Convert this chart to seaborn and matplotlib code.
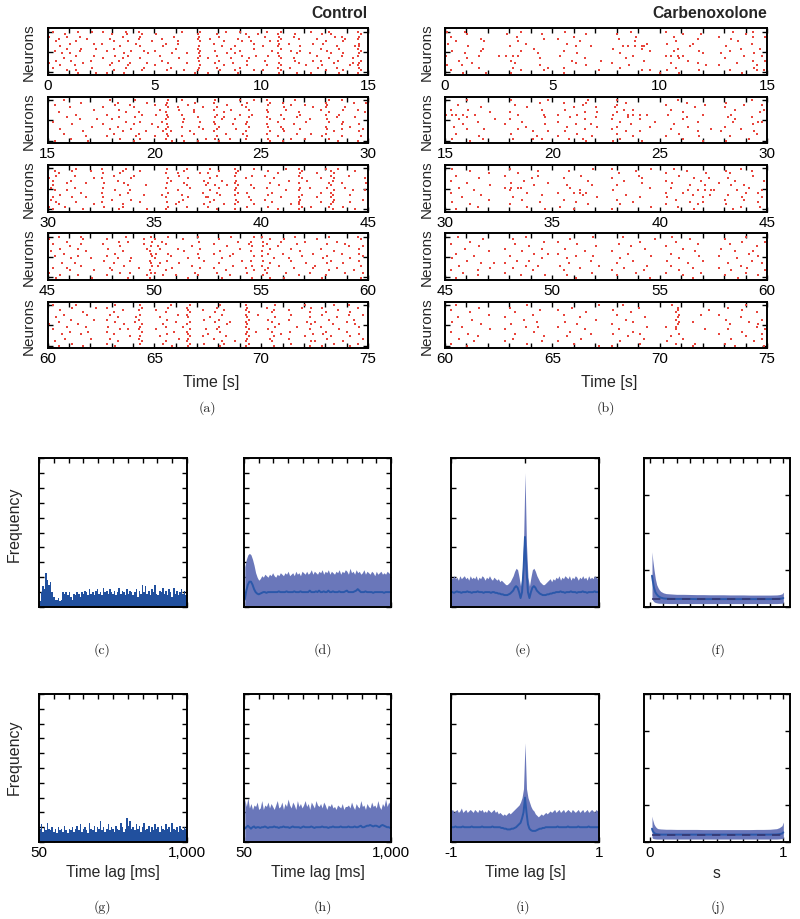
import numpy as np
import pandas as pd
import matplotlib
matplotlib.use("Agg")
import matplotlib.pyplot as plt
import seaborn as sns

# ======================= DATA =======================
# Raster plots: 18 neurons, each string = one neuron over a 15 s panel,
# one character per 0.25 s cell ('.' = no spike, a/b/c/d = spike position in the cell)
PANEL_STARTS = [0, 15, 30, 45, 60]
CELL_S = 0.25
SPIKE_OFFSET = {"a": 0.03, "b": 0.09, "c": 0.16, "d": 0.22}

CONTROL_P1 = [
    ".a...c..b. b...c..a.. .....a..c. ...b..a... .a.c.....b ..c.....a.",
    "...b...... ..a.d..c.. b.......a. .c.....a.b ...a..b... .b.a....c.",
    "b..c..a... ....a..b.. ...c....b. ..a....c.. c..b..a... ...d.a..b.",
    "..a....b.. .c.....a.. .b......a. b....c.... ...c...a.. b....c..a.",
    ".c...b.... ..b..a...c ....b...c. ...a..b.a. .c.a...... ..a..b....",
    "....a...c. a.....c... ..a.b..... .a......c. ...b.a...c .c......b.",
    "a.b....... ...c...b.. .c......b. ..c..a.... b..a...b.. ....a..cb.",
    "...c..b..a ..b....... ....a...a. ....b...c. ...c...... .a..c...a.",
    ".b....a... .a...c..a. a.......c. .b....a... ..a..c.b.. ..b.....c.",
    "..c.a..... ....b...d. ...b..a.b. ...c.a.... ...a..c..a ...a.b..b.",
    "a....b..c. ..c..a.... .a......c. .c....b..a .b.b...... b....a..a.",
    "...a...... b...a..b.. ....c...a. a...b..c.. ...c..a... ..c....a..",
    ".c..b...a. ...b...... .b......b. ..a....b.. c.....b..c .a..b...c.",
    "b.....c... ..a..b..c. ..c...a... .b..c..... ...b...a.. ...c...ab.",
    "..b..a.... .c...a.... a.......c. ...a...b.. .a.c....b. .b....c.a.",
    ".a......b. ....c...a. ...a....b. .c....a... ...a.b.... c...a...b.",
    "...c.b.... ..b....c.. ..b..c..a. ..b..a..c. b..c...... ..a..b..c.",
    "a....c...a .a..b..... .......c.. a....c.... ...b..c..b ....c...a.",
]
CONTROL_P2 = [
    "...a...... .c....b... ..c..a.... .b....a.c. .a....b... ..c..a....",
    "......b... ...a....c. ..b....c.. .a.....b.. .c..a..... ..a....b.c",
    ".b........ ..c..b.... a.a...b... ...c..b... .b...c..a. ..b.......",
    "....a..... b.....a... ..c.b....a .c.....a.. ....b....c ..a..c....",
    "........c. ...b...... .a..c..b.. .a..b..c.. .a..c..... .a...b..a.",
    "..a....... ....c..a.. ..a....b.. ...a...... .b.....a.. ..c......b",
    ".....b.... .a.....c.. b.b..a.... .c....a.b. ...c...b.. ..a.c.....",
    "...c...... ...b..b... ..c.....a. .b.a...c.. .a....c... ....a..c..",
    "......a..b ..a....... ..a..c.... ..c..a.... .c..b....a ..b.......",
    ".a........ ....c..b.. .b...b..c. .a.....b.. ...a....b. ..c..b....",
    "....c..... b.....a..c ..b....... .b..c..a.. .a....a... .....a..b.",
    "........b. ...a...... c.c..a..b. ..a....c.. .b.c...... ..a...c...",
    "..b....... .c...c.... ..a......a .c...b.... ....a..b.. ..b..a...a",
    "......c... ....a...b. .c.a..c... .a.....a.. .c..b..... ...c....b.",
    "...a...... ..b....a.. ..b....b.. ...b..c... .a....c..b ..a.......",
    ".......a.. .a....c... a.c..a.... .c.....b.. ...a...... .b...a..c.",
    "....b..... ...c...b.. ..a......c .b..a..a.. .b...c..a. ..c.......",
    ".b.....c.. ......a... ...b.c..a. ..a....... .c..a..... ....b...a.",
]
CONTROL_P3 = [
    "a....b.... a...c..... ..b...a... b....a..c. ....c..a.. ..a.b.....",
    ".b..c...a. ....a..b.. .....c.... ..a..c.... .b.....c.. ...a...c..",
    "..a....... b..c...... ..a.b...c. a....b.... ...a...b.. b..c......",
    ".c...a.... ..b...a... ....c..... .c...a..b. c......a.. ...a..b...",
    "b.......c. a....c.... ..c...b... b......a.. ..b....c.. .a.c.....b",
    ".a..b..... ...a...... ...a.....b ..c..b.... .....a..c. ...b......",
    "...c...a.. c...b..... ..b..c.... a....a.... .c.....a.. ..c..a...c",
    ".a........ .....a..b. ......a..c .b.c.c..a. ...b...... ...a......",
    "c....a.... b......... ..a...c... ..a..b..c. .a.....b.a ..b..c....",
    ".b.c...... ..c..b.... ....b..... b....a.... ....c..a.. ...c...a.b",
    "a.....b... a....a.... ..c......a .c...c.b.. ..a....... .a.a......",
    "..b....... ...c....a. .b...a.... ..b..a.... .b.....c.. ...b..c...",
    ".a..c..a.. b......... ..a...b..c a......c.. ...c...a.. b..a......",
    "c......... ..a..c.... .....b.... .a...b..a. c......b.. ...c.....a",
    ".c...b.... a......b.. ..b.c..... b....c.... ..a....a.. .a.b..c...",
    "..a.....c. ....a..... ....a....b ...a.a..c. .....c.a.. ...a......",
    "b..b...... c...a..... ..c...a... a......b.. .b.....c.b ..c..b....",
    ".a....c... ...b....c. ..a....... .c...a.... ...a...a.. ...b...c..",
]
CONTROL_P4 = [
    "..a...b... ....c....b ..c.....a. ....b...c. a.....b... ..c.....a.",
    "b.....c... .a......a. a....b.... ..a....... .c..b..... b.......c.",
    "...c...... ...b.a...c .b......b. .....c..a. b..c....a. ....a.....",
    ".a....b... b.......a. ..a....... .a.....c.. .a....c... ..b..c....",
    "....a..... ...c.....b c......a.. ...c....b. b..a...... ......b..a",
    "..b..c.... .b......c. .a..b...c. ......a... .c...c.... .a......b.",
    "c......a.. ....a....a .....c.... ..b.....a. a......b.. ...c......",
    "...a...... ..c......b b.c.....a. .a..c..... .b..a....c .....a..b.",
    ".b...c.... .a.......c ...a...... ....a...c. a......c.. ..b......a",
    "....b...a. ...a.c.... a.....b.b. ..c....... ..b..a.... .c....c...",
    "a......... c....b...a ..b......b ......b.a. b....c.... ...a....b.",
    "..c..a.... ..b......b .a..c..... ..a....... .c......b. ..b..b....",
    "......b... ....b....c c......a.. ....c...b. a..b...... a.......c.",
    ".a.c...... .c.....a.. ...b....c. .a.....a.. .b....a..c ....a.....",
    "....a...c. ..a......a ..a....... ...b....c. c......... ..c....b..",
    "b......... ...c.b...b a......c.. .c.....b.. .a..c....a .....c...a",
    "..b..c.... .a......c. .c..a...a. ....a..... b......a.. ..a.......",
    ".c......b. .....a...a ......b... ..c.....b. .c..b..... .b......c.",
]
CONTROL_P5 = [
    ".a...b.... ..c....b.. ...a..c... ..b....a.. ..c.....a. ...c..b...",
    "....c....a .a.....c.. ..c...a... .c.....b.. .a.....c.b .b......a.",
    "..b....... ....a..a.. b.....b..a ...a...a.. ..b..a.... ....b.....",
    "a.....c... ..b....... ..a...c... .b.....c.. ..a......a ..a...c...",
    "...a...b.. .c.....b.. ....b.a... ..c....a.b .....c.... .b....b..a",
    ".c........ ...a..c... .a....b... b......b.. ..c......a ....a.....",
    "....b...c. .a.....a.. ..b......b ..a....c.. .b...a.... ..c....b..",
    "..a....... ..c...b... ....a.c... .b..a..a.. ..a.....c. a.....a...",
    "b....c.... ....b..c.. .c....a... ...c...b.. ...b.....b ...b...c..",
    "...c...a.. .b.....b.. ..a..b.... ..a....a.. ..c...c... .a......b.",
    ".a........ ...c.a.a.. b.....c..c .c.....c.. .b.......a ....c.....",
    "....a..c.. .a.....c.. ...c..a... ..b....b.a ..a..b.... ..a...a...",
    "..c...b... ..b....... ..b...b... a......a.. ...c.....c .c......b.",
    "a......... .....b.b.. .a....c..a ...b...c.. ..b.....a. ...a..c...",
    "...b....a. .c.....a.. ....c.b... .a.....b.. .c...a.... ..b......a",
    ".b........ ...a...c.. ..a...a... ..c..a.a.. ..a......b a....b....",
    "....c..... .a.....b.. .c....c..b ...a...c.. .....c.... ...c....a.",
    "..a...c... ..c....... ...b..b... ..b....a.. ..b......a .b....c...",
]

CARBENOXOLONE_P1 = [
    "b..c...... ....a..... ..b....... ....c..... .a........ ...c...b..",
    "....a..... .c......a. ......b... ..a....... ....b..c.. ......a...",
    ".a........ ...b...... ....a..... .....c.... ..c....... .a.....b.c",
    "......c... ........b. .a........ ..b....... .......a.. ...b......",
    "..a....b.. ...c...... .....a.... .....b.... ...a...... ....c.....",
    "c......... .....a.... ..c....... .......c.. .b....a... .......a..",
    "....b..... ..a....... ....b..a.. ...aabca.. .....c.... ..b.......",
    ".......a.. ......c... .......... .b....c... ...b...... .....a..c.",
    ".b....c... ....a..... ..a....... ........a. ..c....b.. ...a......",
    "...c...... .......b.. ....c..... ..c....... ........a. .b.....c..",
    "a.....b... abcc...... .b........ .....a.... .aabb..... .....c...a",
    "....a..... .......c.. ......a... ...c...... ...c...... ..a.......",
    "..c....... ..b....... ...c.....a .......a.. .....b.... .......b.c",
    ".....a.... ...a...... ....b..... .a........ ..a....a.. ....b.....",
    "b..a...... .......c.. ......b... ....b..... ........c. .a......a.",
    "......b... ..c......a ..a....... ..c....... ...a...... .......c..",
    ".a........ ....a...b. ........c. ......c.a. .b.....b.. ...a....ab",
    "...b...c.. ..b....... ..a....... .......... a..c...... .....b....",
]
CARBENOXOLONE_P2 = [
    "....a..... ..b......a ......c... ..a....... ...b...... .......a..",
    ".......... .......c.. ..a...b... ...c...... .....a.... ..b.......",
    "..b....... ...a...... .....c.... ..a....... .a......b. .....c...a",
    "......c... .....b.... ....a...a. .c........ ......c... ..a.......",
    ".a..b..... ........a. ..b....... ...b.a.... ..a....... ....a....b",
    "........b. ..a....... ......a.b. ..a....... ....b..... ........c.",
    "abab.c.... ...c....b. .a..c..... .b..aabc.. .c......a. ...b......",
    "....a..... ........c. ...b....a. ....a..... .....a.... ..c....a..",
    "..c......b ..a....... ......a... .a....b... ....b..... ....a.....",
    "......a... ....b..... .a........ ..c......a .......a.. ...c....ba",
    "...b...... .a......c. ....b..a.. ....c..... ..c....... .......b..",
    ".c........ .....a.... ..c.....b. ..a.....a. .....b.... ..a.......",
    "....a..b.. ...c...... ......a... .a........ ..a......c .....a....",
    ".......... ......b..a ..b....... ...c..b... .......a.. .b.....c..",
    "..a....... ..b....... ....c..... ..a....... ...c...... ........a.",
    "......b... .......a.. .a.....b.. .....a.... .a.....b.. ...a......",
    ".b.....a.. ..c...b.a. ...a.c.... ..c....... ....b..... ......c...",
    "....c..... .......... ......b... .b....c... ........a. ..b.......",
]
CARBENOXOLONE_P3 = [
    ".b........ ..a....... .......c.. .a......b. ..c....... .....a....",
    "....c..... .......b.. ...a...... .....c.... .....a.... ..b....a..",
    "........a. ...c...... .......... ..b....... .a......c. ...a......",
    "..a....... .a.....b.. .....b.... ......a... ...c...... .......b..",
    "......b... ......a... ..a....... .a....c... ......b..a ..c.......",
    ".a........ ....c..... ......c... ...b...... .a.....c.. ....a....b",
    "....a..... ..b......a .......... ......c... ..b....... .a........",
    "........b. ......c... ..c....b.. ..a....... .....c..b. ...b.c....",
    "..c....... .abca..... ...b...... ........a. ..a....... ......c...",
    ".....b.... ..a....... .....a.... .b........ .....b.abc a...b....a",
    ".a........ .....b.... .a..aab... .......... .a..b..... ......a.b.",
    "......c... ........a. .....c.... ...c...... ......a..b ..c.......",
    "...a...... ..c....... ........b. ......b... .b......a. .....b...a",
    "........a. ....b..... ..a....... ..a....... ...a...... ..a..c....",
    ".b........ .......c.. ....b..... .....a.... .....c..a. ........b.",
    "....c..... ..a....... ......c... ..c....... .a.....a.. ..b.......",
    "......a... .....b.... .b........ ........b. ...b...... .....a..c.",
    "..a....... ........c. ....a..... .a........ ......b... ...c......",
]
CARBENOXOLONE_P4 = [
    "..b....... .....a.... .......c.. ...a...... ..b....... ......a...",
    ".......a.. ..c....... ...b...... .........a .....c.... ..a.......",
    "....c..... ........b. .a........ ......b... ...a...... .....b...c",
    ".a........ ...a...... ....c..... ..b....... .......a.. ...a......",
    "......b... .....c.... ........a. ....c..... .a........ ........a.",
    "...c...... .a......a. ..b....... .......b.. ....b..... .b........",
    "........a. ....b..... ......a... .a........ ......c... ....a..b..",
    "..a....... ......c..a .a........ ....a..... ..a....... ......c...",
    ".....b.... ..a....... ....b..c.. ........b. .......b.. .a......b.",
    ".b........ ........a. ..c....... ..c....... ...c...... ....b.....",
    "....a..... ...b.c.... .......a.. .....a.... .b......a. .......a..",
    "......c..a .a........ ...a...... ..a....... .....b.... ..c......a",
    "..c....... .....a.b.. .b......c. .......c.. ..a....... .....a....",
    "........b. ..c....... .....a.... ...b...... ......a... .a....b...",
    ".a....a... ......b... ..a....... .a.....a.. ...c...... ...b.....c",
    "...b...... .a........ .......b.. .....c.... .a.....c.. ......a...",
    "......a... ....a...c. ..c....... ..a....... ....b..... ..a.....b.",
    "..a....... .......... ....b..... ........a. ......a... ....c.....",
]
CARBENOXOLONE_P5 = [
    "..a....... .....b.... ........c. ...a...... ..b....... ......a...",
    "......b... ..a....... ...c...... ......a... ...b...... ..c.......",
    ".a........ .......c.. .a........ .b........ ...b.....a .....b....",
    "....c..... ...a...... ......b... ....c..... ...a...... ........a.",
    "........a. ......b... ..a....... ..a....... ...c...c.. .a........",
    "..b....... .a........ .....a.... .......b.. ...b...... .....a....",
    ".....a.... ....c..... ........a. ...c...... ...a...... ..b......a",
    ".b........ .......a.. ..b....... .....a.... ...c..a... ......c...",
    "......c... ..b....... ....c..... .a........ ...b...... ...a....b.",
    "...a...... .....a.b.. .a........ .......c.. .a.a...... ........a.",
    "........b. .a........ ......a... ..b....... ...a....b. ..c......c",
    ".a........ ......c... ...b...... .....a.... .......... .....b....",
    "....b..... ...a...... .......a.. .b....b... ...c...... .a.......a",
    "......a... ........b. ..c....... ....a..... ..a....... ......a...",
    "..c....... ..c....... .....b.... .......a.. ....b..... ...b.....a",
    ".....b.... .a......a. .a........ ..c....... .b........ .......c..",
    ".a........ .....b.... ....a..... ......b... ...a..c... ..a.......",
    "....a..... .......... ........c. .a........ ......a... ....a....b",
]

CONTROL_PANELS = [CONTROL_P1, CONTROL_P2, CONTROL_P3, CONTROL_P4, CONTROL_P5]
CARBENOXOLONE_PANELS = [CARBENOXOLONE_P1, CARBENOXOLONE_P2, CARBENOXOLONE_P3,
                        CARBENOXOLONE_P4, CARBENOXOLONE_P5]

# Lag histograms (50..1000 ms, 10 ms bins), normalised frequency
HIST_EDGES_MS = np.arange(50, 1001, 10)
HIST_C = [0.04, 0.10, 0.14, 0.12, 0.23, 0.18, 0.15, 0.17, 0.10, 0.07,
          0.05, 0.05, 0.06, 0.04, 0.05, 0.10, 0.09, 0.10, 0.08, 0.10,
          0.07, 0.05, 0.09, 0.08, 0.10, 0.09, 0.07, 0.10, 0.09, 0.11,
          0.10, 0.08, 0.12, 0.09, 0.10, 0.08, 0.11, 0.12, 0.09, 0.10,
          0.08, 0.13, 0.10, 0.11, 0.09, 0.12, 0.10, 0.09, 0.11, 0.08,
          0.10, 0.13, 0.09, 0.11, 0.10, 0.08, 0.12, 0.09, 0.11, 0.10,
          0.08, 0.10, 0.12, 0.07, 0.11, 0.09, 0.15, 0.10, 0.14, 0.09,
          0.11, 0.08, 0.12, 0.10, 0.15, 0.09, 0.08, 0.11, 0.10, 0.13,
          0.09, 0.11, 0.08, 0.12, 0.10, 0.07, 0.13, 0.09, 0.11, 0.08,
          0.10, 0.12, 0.09, 0.11, 0.08]
HIST_G = [0.09, 0.12, 0.07, 0.10, 0.08, 0.13, 0.09, 0.08, 0.10, 0.07,
          0.09, 0.06, 0.10, 0.08, 0.09, 0.07, 0.11, 0.08, 0.06, 0.09,
          0.08, 0.10, 0.07, 0.09, 0.11, 0.08, 0.12, 0.07, 0.09, 0.10,
          0.08, 0.06, 0.13, 0.09, 0.08, 0.11, 0.07, 0.10, 0.09, 0.14,
          0.08, 0.10, 0.07, 0.09, 0.12, 0.08, 0.10, 0.09, 0.07, 0.11,
          0.09, 0.08, 0.13, 0.10, 0.07, 0.09, 0.16, 0.11, 0.14, 0.09,
          0.10, 0.08, 0.12, 0.09, 0.11, 0.07, 0.10, 0.13, 0.08, 0.09,
          0.11, 0.07, 0.10, 0.08, 0.12, 0.09, 0.10, 0.07, 0.11, 0.09,
          0.08, 0.12, 0.09, 0.10, 0.07, 0.13, 0.09, 0.08, 0.10, 0.07,
          0.11, 0.09, 0.08, 0.10, 0.09]

# Surrogate bands (upper envelope) and mean, same bins
BAND_D_UP = [0.27, 0.32, 0.35, 0.36, 0.35, 0.32, 0.28, 0.23, 0.20, 0.18,
             0.19, 0.21, 0.20, 0.22, 0.21, 0.20, 0.22, 0.21, 0.23, 0.21,
             0.20, 0.22, 0.21, 0.23, 0.22, 0.21, 0.23, 0.22, 0.24, 0.21,
             0.22, 0.23, 0.21, 0.24, 0.22, 0.23, 0.21, 0.24, 0.23, 0.22,
             0.24, 0.22, 0.23, 0.25, 0.22, 0.24, 0.23, 0.22, 0.24, 0.23,
             0.25, 0.22, 0.24, 0.23, 0.25, 0.22, 0.24, 0.23, 0.22, 0.24,
             0.23, 0.25, 0.22, 0.24, 0.23, 0.25, 0.24, 0.22, 0.26, 0.23,
             0.24, 0.22, 0.25, 0.23, 0.24, 0.22, 0.23, 0.25, 0.22, 0.24,
             0.23, 0.22, 0.24, 0.23, 0.21, 0.24, 0.22, 0.23, 0.24, 0.22,
             0.23, 0.22, 0.24, 0.23, 0.22]
BAND_D_MEAN = [0.05, 0.11, 0.15, 0.17, 0.17, 0.15, 0.12, 0.10, 0.09, 0.085,
               0.09, 0.095, 0.10, 0.10, 0.095, 0.10, 0.10, 0.10, 0.10, 0.10,
               0.10, 0.10, 0.105, 0.10, 0.10, 0.10, 0.10, 0.105, 0.10, 0.10,
               0.10, 0.10, 0.105, 0.10, 0.10, 0.10, 0.105, 0.10, 0.10, 0.10,
               0.10, 0.10, 0.11, 0.10, 0.10, 0.10, 0.105, 0.10, 0.11, 0.10,
               0.10, 0.105, 0.10, 0.10, 0.11, 0.10, 0.10, 0.105, 0.10, 0.10,
               0.10, 0.105, 0.10, 0.10, 0.10, 0.105, 0.11, 0.10, 0.10, 0.10,
               0.10, 0.105, 0.11, 0.12, 0.11, 0.10, 0.10, 0.10, 0.105, 0.10,
               0.10, 0.10, 0.10, 0.095, 0.10, 0.10, 0.10, 0.10, 0.10, 0.10,
               0.095, 0.10, 0.10, 0.10, 0.10]
BAND_H_UP = [0.29, 0.24, 0.30, 0.23, 0.26, 0.22, 0.25, 0.24, 0.27, 0.22,
             0.23, 0.28, 0.22, 0.25, 0.24, 0.27, 0.23, 0.26, 0.24, 0.22,
             0.25, 0.28, 0.23, 0.24, 0.27, 0.22, 0.26, 0.24, 0.29, 0.25,
             0.23, 0.27, 0.25, 0.22, 0.28, 0.24, 0.26, 0.23, 0.25, 0.28,
             0.24, 0.26, 0.22, 0.27, 0.25, 0.23, 0.28, 0.25, 0.24, 0.26,
             0.23, 0.27, 0.25, 0.22, 0.25, 0.24, 0.26, 0.23, 0.24, 0.22,
             0.25, 0.24, 0.23, 0.26, 0.22, 0.24, 0.24, 0.25, 0.23, 0.27,
             0.24, 0.22, 0.26, 0.24, 0.23, 0.28, 0.24, 0.25, 0.22, 0.26,
             0.24, 0.23, 0.27, 0.24, 0.25, 0.23, 0.28, 0.24, 0.22, 0.26,
             0.24, 0.29, 0.24, 0.27, 0.25]
BAND_H_MEAN = [0.09, 0.10, 0.11, 0.10, 0.09, 0.10, 0.105, 0.095, 0.10, 0.10,
               0.095, 0.10, 0.10, 0.105, 0.10, 0.095, 0.10, 0.10, 0.10, 0.105,
               0.10, 0.10, 0.095, 0.10, 0.10, 0.105, 0.10, 0.10, 0.10, 0.095,
               0.10, 0.105, 0.10, 0.10, 0.10, 0.10, 0.095, 0.10, 0.105, 0.10,
               0.10, 0.10, 0.10, 0.105, 0.10, 0.095, 0.10, 0.10, 0.10, 0.10,
               0.105, 0.10, 0.10, 0.10, 0.095, 0.10, 0.10, 0.105, 0.10, 0.10,
               0.10, 0.10, 0.105, 0.10, 0.10, 0.10, 0.10, 0.105, 0.10, 0.10,
               0.10, 0.105, 0.10, 0.10, 0.105, 0.11, 0.10, 0.10, 0.105, 0.11,
               0.11, 0.115, 0.11, 0.105, 0.11, 0.11, 0.105, 0.10, 0.11, 0.115,
               0.11, 0.105, 0.10, 0.10, 0.095]

# Cross-correlograms, lag -1..1 s in 0.02 s steps
LAG_S = np.round(np.arange(-1.0, 1.0001, 0.02), 2)
CCG_E_UP = [0.20, 0.19, 0.21, 0.19, 0.20, 0.18, 0.21, 0.19, 0.20, 0.21,
            0.19, 0.20, 0.18, 0.21, 0.19, 0.20, 0.19, 0.21, 0.18, 0.20,
            0.19, 0.21, 0.20, 0.18, 0.20, 0.19, 0.21, 0.19, 0.18, 0.20,
            0.19, 0.18, 0.19, 0.17, 0.18,
            0.17, 0.16, 0.15, 0.15, 0.16, 0.17, 0.19, 0.21, 0.24, 0.26, 0.25, 0.20, 0.14, 0.20, 0.42,
            0.90,
            0.42, 0.20, 0.14, 0.20, 0.25, 0.26, 0.24, 0.21, 0.19, 0.17, 0.16, 0.15, 0.15, 0.16, 0.17,
            0.18, 0.19, 0.17, 0.19, 0.18,
            0.20, 0.19, 0.21, 0.18, 0.20, 0.19, 0.21, 0.20, 0.19, 0.21,
            0.18, 0.20, 0.19, 0.21, 0.20, 0.18, 0.20, 0.19, 0.21, 0.19,
            0.20, 0.18, 0.21, 0.19, 0.20, 0.19, 0.21, 0.20, 0.19, 0.20]
CCG_E_MEAN = [0.10, 0.10, 0.095, 0.10, 0.105, 0.10, 0.10, 0.095, 0.10, 0.10,
              0.10, 0.105, 0.10, 0.10, 0.095, 0.10, 0.10, 0.10, 0.105, 0.10,
              0.10, 0.10, 0.095, 0.10, 0.10, 0.10, 0.10, 0.095, 0.10, 0.10,
              0.095, 0.095, 0.09, 0.09, 0.085,
              0.085, 0.08, 0.08, 0.08, 0.085, 0.09, 0.10, 0.11, 0.13, 0.14, 0.13, 0.10, 0.06, 0.10, 0.25,
              0.47,
              0.25, 0.10, 0.06, 0.10, 0.13, 0.14, 0.13, 0.11, 0.10, 0.09, 0.085, 0.08, 0.08, 0.08, 0.085,
              0.085, 0.09, 0.09, 0.095, 0.095,
              0.10, 0.10, 0.10, 0.105, 0.10, 0.10, 0.095, 0.10, 0.10, 0.10,
              0.105, 0.10, 0.10, 0.10, 0.095, 0.10, 0.10, 0.10, 0.105, 0.10,
              0.10, 0.095, 0.10, 0.10, 0.10, 0.10, 0.105, 0.10, 0.10, 0.10]
CCG_I_UP = [0.21, 0.22, 0.20, 0.21, 0.22, 0.20, 0.21, 0.23, 0.20, 0.21,
            0.22, 0.20, 0.21, 0.22, 0.21, 0.20, 0.22, 0.21, 0.20, 0.22,
            0.21, 0.22, 0.20, 0.21, 0.20, 0.22, 0.21, 0.20, 0.21, 0.22,
            0.20, 0.21, 0.19, 0.20, 0.19, 0.18, 0.19, 0.18, 0.19, 0.20,
            0.19, 0.20, 0.21, 0.22, 0.23, 0.24, 0.25, 0.27, 0.30, 0.36,
            0.67,
            0.36, 0.30, 0.27, 0.24, 0.22, 0.21, 0.19, 0.18, 0.17, 0.18,
            0.19, 0.18, 0.19, 0.20, 0.19, 0.20, 0.21, 0.20, 0.21, 0.22,
            0.20, 0.21, 0.22, 0.20, 0.21, 0.22, 0.20, 0.21, 0.22, 0.21,
            0.20, 0.22, 0.21, 0.20, 0.21, 0.22, 0.20, 0.21, 0.22, 0.20,
            0.21, 0.22, 0.20, 0.21, 0.22, 0.21, 0.20, 0.22, 0.21, 0.21]
CCG_I_MEAN = [0.10, 0.10, 0.10, 0.105, 0.10, 0.10, 0.10, 0.10, 0.105, 0.10,
              0.10, 0.10, 0.10, 0.10, 0.105, 0.10, 0.10, 0.10, 0.10, 0.10,
              0.10, 0.105, 0.10, 0.10, 0.10, 0.10, 0.10, 0.10, 0.105, 0.10,
              0.10, 0.10, 0.10, 0.10, 0.095, 0.095, 0.09, 0.09, 0.085, 0.085,
              0.085, 0.09, 0.09, 0.095, 0.10, 0.11, 0.12, 0.13, 0.16, 0.20,
              0.30,
              0.20, 0.12, 0.09, 0.08, 0.075, 0.075, 0.075, 0.08, 0.085, 0.09,
              0.09, 0.095, 0.095, 0.10, 0.10, 0.10, 0.10, 0.10, 0.10, 0.10,
              0.10, 0.105, 0.10, 0.10, 0.10, 0.10, 0.10, 0.10, 0.105, 0.10,
              0.10, 0.10, 0.10, 0.10, 0.10, 0.105, 0.10, 0.10, 0.10, 0.10,
              0.10, 0.10, 0.105, 0.10, 0.10, 0.10, 0.10, 0.10, 0.10, 0.10]

# Measure vs s (0..1)
S_VALUES = [0.015, 0.02, 0.03, 0.04, 0.05, 0.06, 0.07, 0.08, 0.10, 0.12,
            0.15, 0.20, 0.25, 0.30, 0.35, 0.40, 0.45, 0.50, 0.55, 0.60,
            0.65, 0.70, 0.75, 0.80, 0.85, 0.90, 0.95, 0.97, 0.99, 1.00]
S_F_UP = [0.37, 0.32, 0.25, 0.19, 0.15, 0.13, 0.115, 0.105, 0.095, 0.09,
          0.088, 0.085, 0.085, 0.084, 0.083, 0.083, 0.082, 0.082, 0.082, 0.081,
          0.081, 0.081, 0.080, 0.080, 0.080, 0.080, 0.081, 0.083, 0.088, 0.10]
S_F_LOW = [0.06, 0.045, 0.035, 0.03, 0.028, 0.026, 0.025, 0.025, 0.024, 0.024,
           0.023, 0.023, 0.023, 0.023, 0.023, 0.023, 0.023, 0.023, 0.023, 0.023,
           0.023, 0.023, 0.023, 0.023, 0.023, 0.023, 0.023, 0.024, 0.025, 0.027]
S_F_MEAN = [0.21, 0.18, 0.13, 0.10, 0.085, 0.075, 0.068, 0.063, 0.058, 0.056,
            0.055, 0.054, 0.054, 0.054, 0.053, 0.053, 0.053, 0.053, 0.053, 0.053,
            0.053, 0.053, 0.053, 0.053, 0.053, 0.053, 0.054, 0.055, 0.057, 0.06]
S_F_NULL = 0.055
S_J_UP = [0.175, 0.15, 0.12, 0.105, 0.095, 0.09, 0.089, 0.088, 0.087, 0.086,
          0.086, 0.085, 0.085, 0.085, 0.085, 0.084, 0.084, 0.084, 0.084, 0.084,
          0.084, 0.084, 0.084, 0.085, 0.085, 0.086, 0.09, 0.097, 0.11, 0.135]
S_J_LOW = [0.03, 0.025, 0.022, 0.021, 0.02, 0.02, 0.02, 0.02, 0.02, 0.02,
           0.02, 0.02, 0.02, 0.02, 0.02, 0.02, 0.02, 0.02, 0.02, 0.02,
           0.02, 0.02, 0.02, 0.02, 0.02, 0.02, 0.02, 0.021, 0.023, 0.026]
S_J_MEAN = [0.09, 0.075, 0.062, 0.056, 0.053, 0.052, 0.051, 0.05, 0.05, 0.05,
            0.05, 0.05, 0.05, 0.05, 0.05, 0.05, 0.05, 0.05, 0.05, 0.05,
            0.05, 0.05, 0.05, 0.05, 0.05, 0.05, 0.051, 0.053, 0.057, 0.065]
S_J_NULL = 0.048

# ======================= STYLE =======================
RED = "#e8453c"
HIST_BLUE = "#21509e"
BAND_BLUE = "#6a77ba"
LINE_BLUE = "#2b58aa"
NULL_DARK = "#343670"

sns.set_style("ticks")
plt.rcParams["font.family"] = ["Liberation Sans", "DejaVu Sans"]
SERIF = ["cmr10", "DejaVu Serif"]

W, H = 800, 919
fig = plt.figure(figsize=(W / 100, H / 100), dpi=100)


def ax_px(x0, y0, x1, y1):
    return fig.add_axes([x0 / W, 1 - y1 / H, (x1 - x0) / W, (y1 - y0) / H])


def style(ax, labelsize=11):
    for sp in ax.spines.values():
        sp.set_visible(True)
        sp.set_linewidth(1.4)
        sp.set_color("black")
        sp.set_zorder(5)
    ax.tick_params(which="both", direction="in", top=True, right=True,
                   bottom=True, left=True, length=3.5, width=1.0,
                   labelsize=labelsize, pad=3, colors="black")
    ax.set_xlabel("")
    ax.set_ylabel("")


def spikes_df(panel, start):
    rows = []
    n = len(panel)
    for r, s in enumerate(panel):
        s = s.replace(" ", "")[:60].ljust(60, ".")
        for j, ch in enumerate(s):
            if ch in SPIKE_OFFSET:
                rows.append((start + j * CELL_S + SPIKE_OFFSET[ch], n - 1 - r))
    return pd.DataFrame(rows, columns=["time", "neuron"])


# ----------------- raster plots (a) and (b) -----------------
COL_X = [(47.5, 368.0), (445.0, 767.0)]
ROW_TOP0, ROW_STEP, ROW_H = 28.3, 68.33, 46.7
for ci, (panels, title) in enumerate([(CONTROL_PANELS, "Control"),
                                      (CARBENOXOLONE_PANELS, "Carbenoxolone")]):
    x0, x1 = COL_X[ci]
    for k, (panel, start) in enumerate(zip(panels, PANEL_STARTS)):
        top = ROW_TOP0 + k * ROW_STEP
        ax = ax_px(x0, top, x1, top + ROW_H)
        df = spikes_df(panel, start)
        sns.scatterplot(data=df, x="time", y="neuron", ax=ax, s=2.4, marker="s",
                        color=RED, linewidth=0, legend=False)
        ax.set_xlim(start, start + 15)
        ax.set_ylim(-1, 18.5)
        ax.set_xticks([start, start + 5, start + 10, start + 15])
        ax.set_xticklabels([str(v) for v in [start, start + 5, start + 10, start + 15]])
        ax.set_xticks(np.arange(start, start + 16, 1), minor=True)
        ax.set_yticks([0.1, 8.6, 17.1])
        ax.set_yticklabels([])
        style(ax)
        fig.text((x0 - 18.5) / W, 1 - (top + ROW_H / 2 + 1) / H, "Neurons",
                 rotation=90, ha="center", va="center", fontsize=11)
        if k == 0:
            fig.text(x1 / W, 1 - 13 / H, title, ha="right", va="center",
                     fontsize=11.3, fontweight="bold")
    fig.text((x0 + x1) / 2 / W + 3 / W, 1 - 383 / H, "Time [s]", ha="center",
             va="center", fontsize=11.5)
    fig.text([207, 606][ci] / W, 1 - 408 / H, ["(a)", "(b)"][ci], ha="center",
             va="center", fontsize=10, family=SERIF)

# ----------------- bottom panels (c)-(j) -----------------
LEFTS = [(39, 187), (244, 391), (451, 599), (644, 790)]
ROWS = [(458, 607), (694, 842)]
LABEL_X = [102, 323, 523, 718]
LABEL_Y = [650, 907]
LETTERS = [["(c)", "(d)", "(e)", "(f)"], ["(g)", "(h)", "(i)", "(j)"]]

HIST_CENTERS = (HIST_EDGES_MS[:-1] + HIST_EDGES_MS[1:]) / 2
hists = [HIST_C, HIST_G]
bands_ms = [(BAND_D_UP, BAND_D_MEAN), (BAND_H_UP, BAND_H_MEAN)]
ccgs = [(CCG_E_UP, CCG_E_MEAN), (CCG_I_UP, CCG_I_MEAN)]
svals = [(S_F_UP, S_F_LOW, S_F_MEAN, S_F_NULL), (S_J_UP, S_J_LOW, S_J_MEAN, S_J_NULL)]

for ri, (yt, yb) in enumerate(ROWS):
    axes = [ax_px(l, yt, r, yb) for (l, r) in LEFTS]

    # histogram
    ax = axes[0]
    hdf = pd.DataFrame({"lag_ms": HIST_CENTERS, "freq": hists[ri]})
    sns.histplot(data=hdf, x="lag_ms", weights="freq", bins=list(HIST_EDGES_MS),
                 ax=ax, color=HIST_BLUE, alpha=1.0, linewidth=0,
                 edgecolor=HIST_BLUE)
    ax.set_xlim(50, 1000)

    # surrogate band vs lag in ms
    ax = axes[1]
    up, mn = bands_ms[ri]
    ax.fill_between(HIST_CENTERS, 0, up, color=BAND_BLUE, linewidth=0)
    sns.lineplot(x=HIST_CENTERS, y=mn, ax=ax, color=LINE_BLUE, linewidth=1.4)
    ax.set_xlim(50, 1000)

    for a in axes[:2]:
        a.set_ylim(0, 1)
        a.set_xticks(np.linspace(50, 1000, 11))
        a.set_yticks(np.linspace(0, 1, 11))

    # cross-correlogram
    ax = axes[2]
    up, mn = ccgs[ri]
    ax.fill_between(LAG_S, 0, up, color=BAND_BLUE, linewidth=0)
    sns.lineplot(x=LAG_S, y=mn, ax=ax, color=LINE_BLUE, linewidth=1.4)
    ax.set_xlim(-1, 1)
    ax.set_ylim(0, 1)
    ax.set_xticks([-1, 0, 1])
    ax.set_yticks(np.linspace(0, 1, 6))

    # measure vs s
    ax = axes[3]
    up, lo, mn, null = svals[ri]
    ax.fill_between(S_VALUES, lo, up, color=BAND_BLUE, linewidth=0)
    sns.lineplot(x=S_VALUES, y=mn, ax=ax, color=LINE_BLUE, linewidth=1.4)
    sns.lineplot(x=[S_VALUES[0], S_VALUES[-1]], y=[null, null], ax=ax,
                 color=NULL_DARK, linewidth=1.2, linestyle=(0, (5, 4)))
    ax.set_xlim(-0.045, 1.05)
    ax.set_ylim(0, 1)
    ax.set_xticks(np.linspace(0, 1, 11))
    ax.set_yticks(np.linspace(0, 1, 5))

    for a in axes:
        style(a, labelsize=11)
        a.set_yticklabels([])

    if ri == 0:
        for a in axes:
            a.set_xticklabels([])
    else:
        for a, (ticks, labs) in zip(axes, [([50, 1000], ["50", "1,000"]),
                                            ([50, 1000], ["50", "1,000"]),
                                            ([-1, 1], ["-1", "1"]),
                                            ([0, 1], ["0", "1"])]):
            minor = list(a.get_xticks())
            a.set_xticks(minor, minor=True)
            a.set_xticks(ticks)
            a.set_xticklabels(labs)
            a.tick_params(which="minor", direction="in", top=True, bottom=True,
                          length=3.5, width=1.0)
        for a, lab in zip(axes, ["Time lag [ms]", "Time lag [ms]", "Time lag [s]", "s"]):
            pos = a.get_position()
            fig.text((pos.x0 + pos.x1) / 2, 1 - 873 / H, lab, ha="center",
                     va="center", fontsize=11.3)

    fig.text(14 / W, 1 - [524, 757][ri] / H, "Frequency", rotation=90,
             ha="center", va="center", fontsize=11.5)
    for lx, let in zip(LABEL_X, LETTERS[ri]):
        fig.text(lx / W, 1 - LABEL_Y[ri] / H, let, ha="center", va="center",
                 fontsize=10, family=SERIF)

fig.savefig("out.png", dpi=100)
